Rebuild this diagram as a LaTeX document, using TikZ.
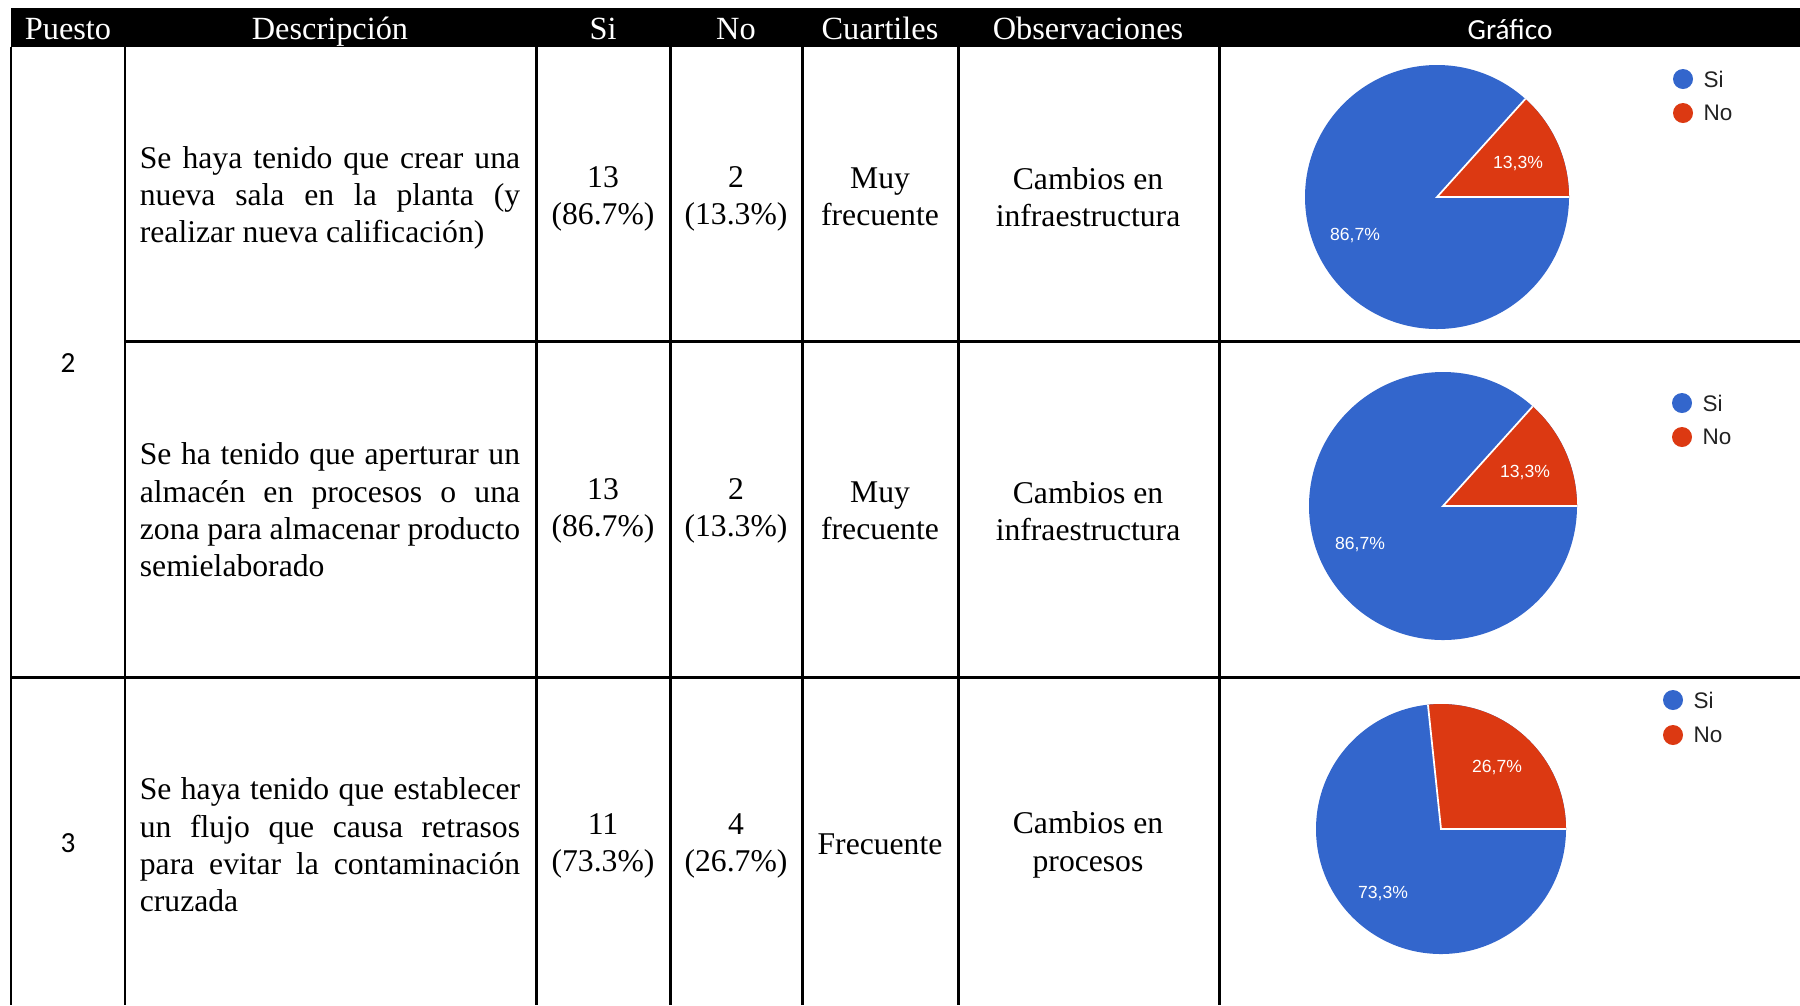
\documentclass[tikz,border=0pt]{standalone}
\usepackage{fontspec}
\setmainfont{Liberation Serif}
\newfontfamily\calibrifont{Carlito}
\newfontfamily\chartfont{Liberation Sans}
\usetikzlibrary{positioning}
\definecolor{pieblue}{RGB}{51, 102, 204}
\definecolor{piered}{RGB}{220, 57, 18}
\definecolor{legendgray}{RGB}{34, 34, 34}

\begin{document}
\begin{tikzpicture}[x=0.01cm, y=-0.01cm,
    tablerule/.style={line width=0.85pt},
    headtext/.style={text=white, anchor=base, inner sep=0pt, font=\fontsize{9.2}{11}\selectfont},
    celltext/.style={align=center, inner sep=0pt, font=\fontsize{9}{10.6}\selectfont},
    desctext/.style={text width=3.8cm, align=justify, inner sep=0pt, font=\fontsize{9}{10.6}\selectfont},
    puestotext/.style={inner sep=0pt, font=\calibrifont\fontsize{8.3}{10}\selectfont},
    pielabel/.style={text=white, inner sep=0pt, font=\chartfont\fontsize{5}{6}\selectfont},
    legtext/.style={anchor=west, inner sep=0pt, text=legendgray, font=\chartfont\fontsize{6.4}{7.5}\selectfont}]

    \useasboundingbox (0,0) rectangle (1800,1005);

    \fill[black] (11,8) rectangle (1800,47);
    \node[headtext] (hpuesto) at (68,39) {Puesto};
    \node[headtext] (hdesc) at (330,39) {Descripción};
    \node[headtext] (hsi) at (603,39) {Si};
    \node[headtext] (hno) at (736,39) {No};
    \node[headtext] (hcuart) at (880,39) {Cuartiles};
    \node[headtext] (hobs) at (1088,39) {Observaciones};
    \node[headtext, font=\calibrifont\fontsize{8.3}{10}\selectfont] (hgraf) at (1510,39) {Gráfico};

    \foreach \x in {11,125,536,670,802,958,1219}
        \draw[tablerule] (\x,47) -- (\x,1005);
    \draw[tablerule] (125,341) -- (1800,341);
    \draw[tablerule] (11,677) -- (1800,677);

    \node[puestotext] (puesto2) at (68,363) {2};
    \node[puestotext] (puesto3) at (68,843) {3};

    \node[desctext] (desc1) at (330,198) {Se haya tenido que crear una\linebreak nueva sala en la planta (y\linebreak realizar nueva calificación)};
    \node[celltext] (si1) at (603,199) {13\\(86.7\%)};
    \node[celltext] (no1) at (736,199) {2\\(13.3\%)};
    \node[celltext] (cuart1) at (880,197) {Muy\\frecuente};
    \node[celltext] (obs1) at (1088,197) {Cambios en\\infraestructura};

    \node[desctext] (desc2) at (330,510) {Se ha tenido que aperturar un\linebreak almacén en procesos o una\linebreak zona para almacenar producto\linebreak semielaborado};
    \node[celltext] (si2) at (603,511) {13\\(86.7\%)};
    \node[celltext] (no2) at (736,511) {2\\(13.3\%)};
    \node[celltext] (cuart2) at (880,511) {Muy\\frecuente};
    \node[celltext] (obs2) at (1088,511) {Cambios en\\infraestructura};

    \node[desctext] (desc3) at (330,845) {Se haya tenido que establecer\linebreak un flujo que causa retrasos\linebreak para evitar la contaminación\linebreak cruzada};
    \node[celltext] (si3) at (603,846) {11\\(73.3\%)};
    \node[celltext] (no3) at (736,846) {4\\(26.7\%)};
    \node[celltext] (cuart3) at (880,844) {Frecuente};
    \node[celltext] (obs3) at (1088,845) {Cambios en\\procesos};

    \coordinate (c1) at (1437,197);
    \fill[pieblue] (c1) circle (132);
    \fill[piered] (c1) -- ++(0:132) arc (0:-48:132) -- cycle;
    \draw[white, line width=0.5pt] (c1) ++(0:132) -- (c1) -- ++(-48:132);
    \node[pielabel] (p1no) at (1518,163) {13,3\%};
    \node[pielabel] (p1si) at (1355,235) {86,7\%};
    \fill[pieblue] (1683,79) circle (10);
    \fill[piered] (1683,113) circle (10);
    \node[legtext] (l1si) at (1703,79) {Si};
    \node[legtext] (l1no) at (1703,113) {No};

    \coordinate (c2) at (1443,506);
    \fill[pieblue] (c2) circle (134);
    \fill[piered] (c2) -- ++(0:134) arc (0:-48:134) -- cycle;
    \draw[white, line width=0.5pt] (c2) ++(0:134) -- (c2) -- ++(-48:134);
    \node[pielabel] (p2no) at (1525,472) {13,3\%};
    \node[pielabel] (p2si) at (1360,544) {86,7\%};
    \fill[pieblue] (1682,403) circle (10);
    \fill[piered] (1682,437) circle (10);
    \node[legtext] (l2si) at (1702,403) {Si};
    \node[legtext] (l2no) at (1702,437) {No};

    \coordinate (c3) at (1441,829);
    \fill[pieblue] (c3) circle (125);
    \fill[piered] (c3) -- ++(0:125) arc (0:-96:125) -- cycle;
    \draw[white, line width=0.5pt] (c3) ++(0:125) -- (c3) -- ++(-96:125);
    \node[pielabel] (p3no) at (1497,767) {26,7\%};
    \node[pielabel] (p3si) at (1383,893) {73,3\%};
    \fill[pieblue] (1673,700) circle (10);
    \fill[piered] (1673,735) circle (10);
    \node[legtext] (l3si) at (1693,700) {Si};
    \node[legtext] (l3no) at (1693,735) {No};
\end{tikzpicture}
\end{document}
